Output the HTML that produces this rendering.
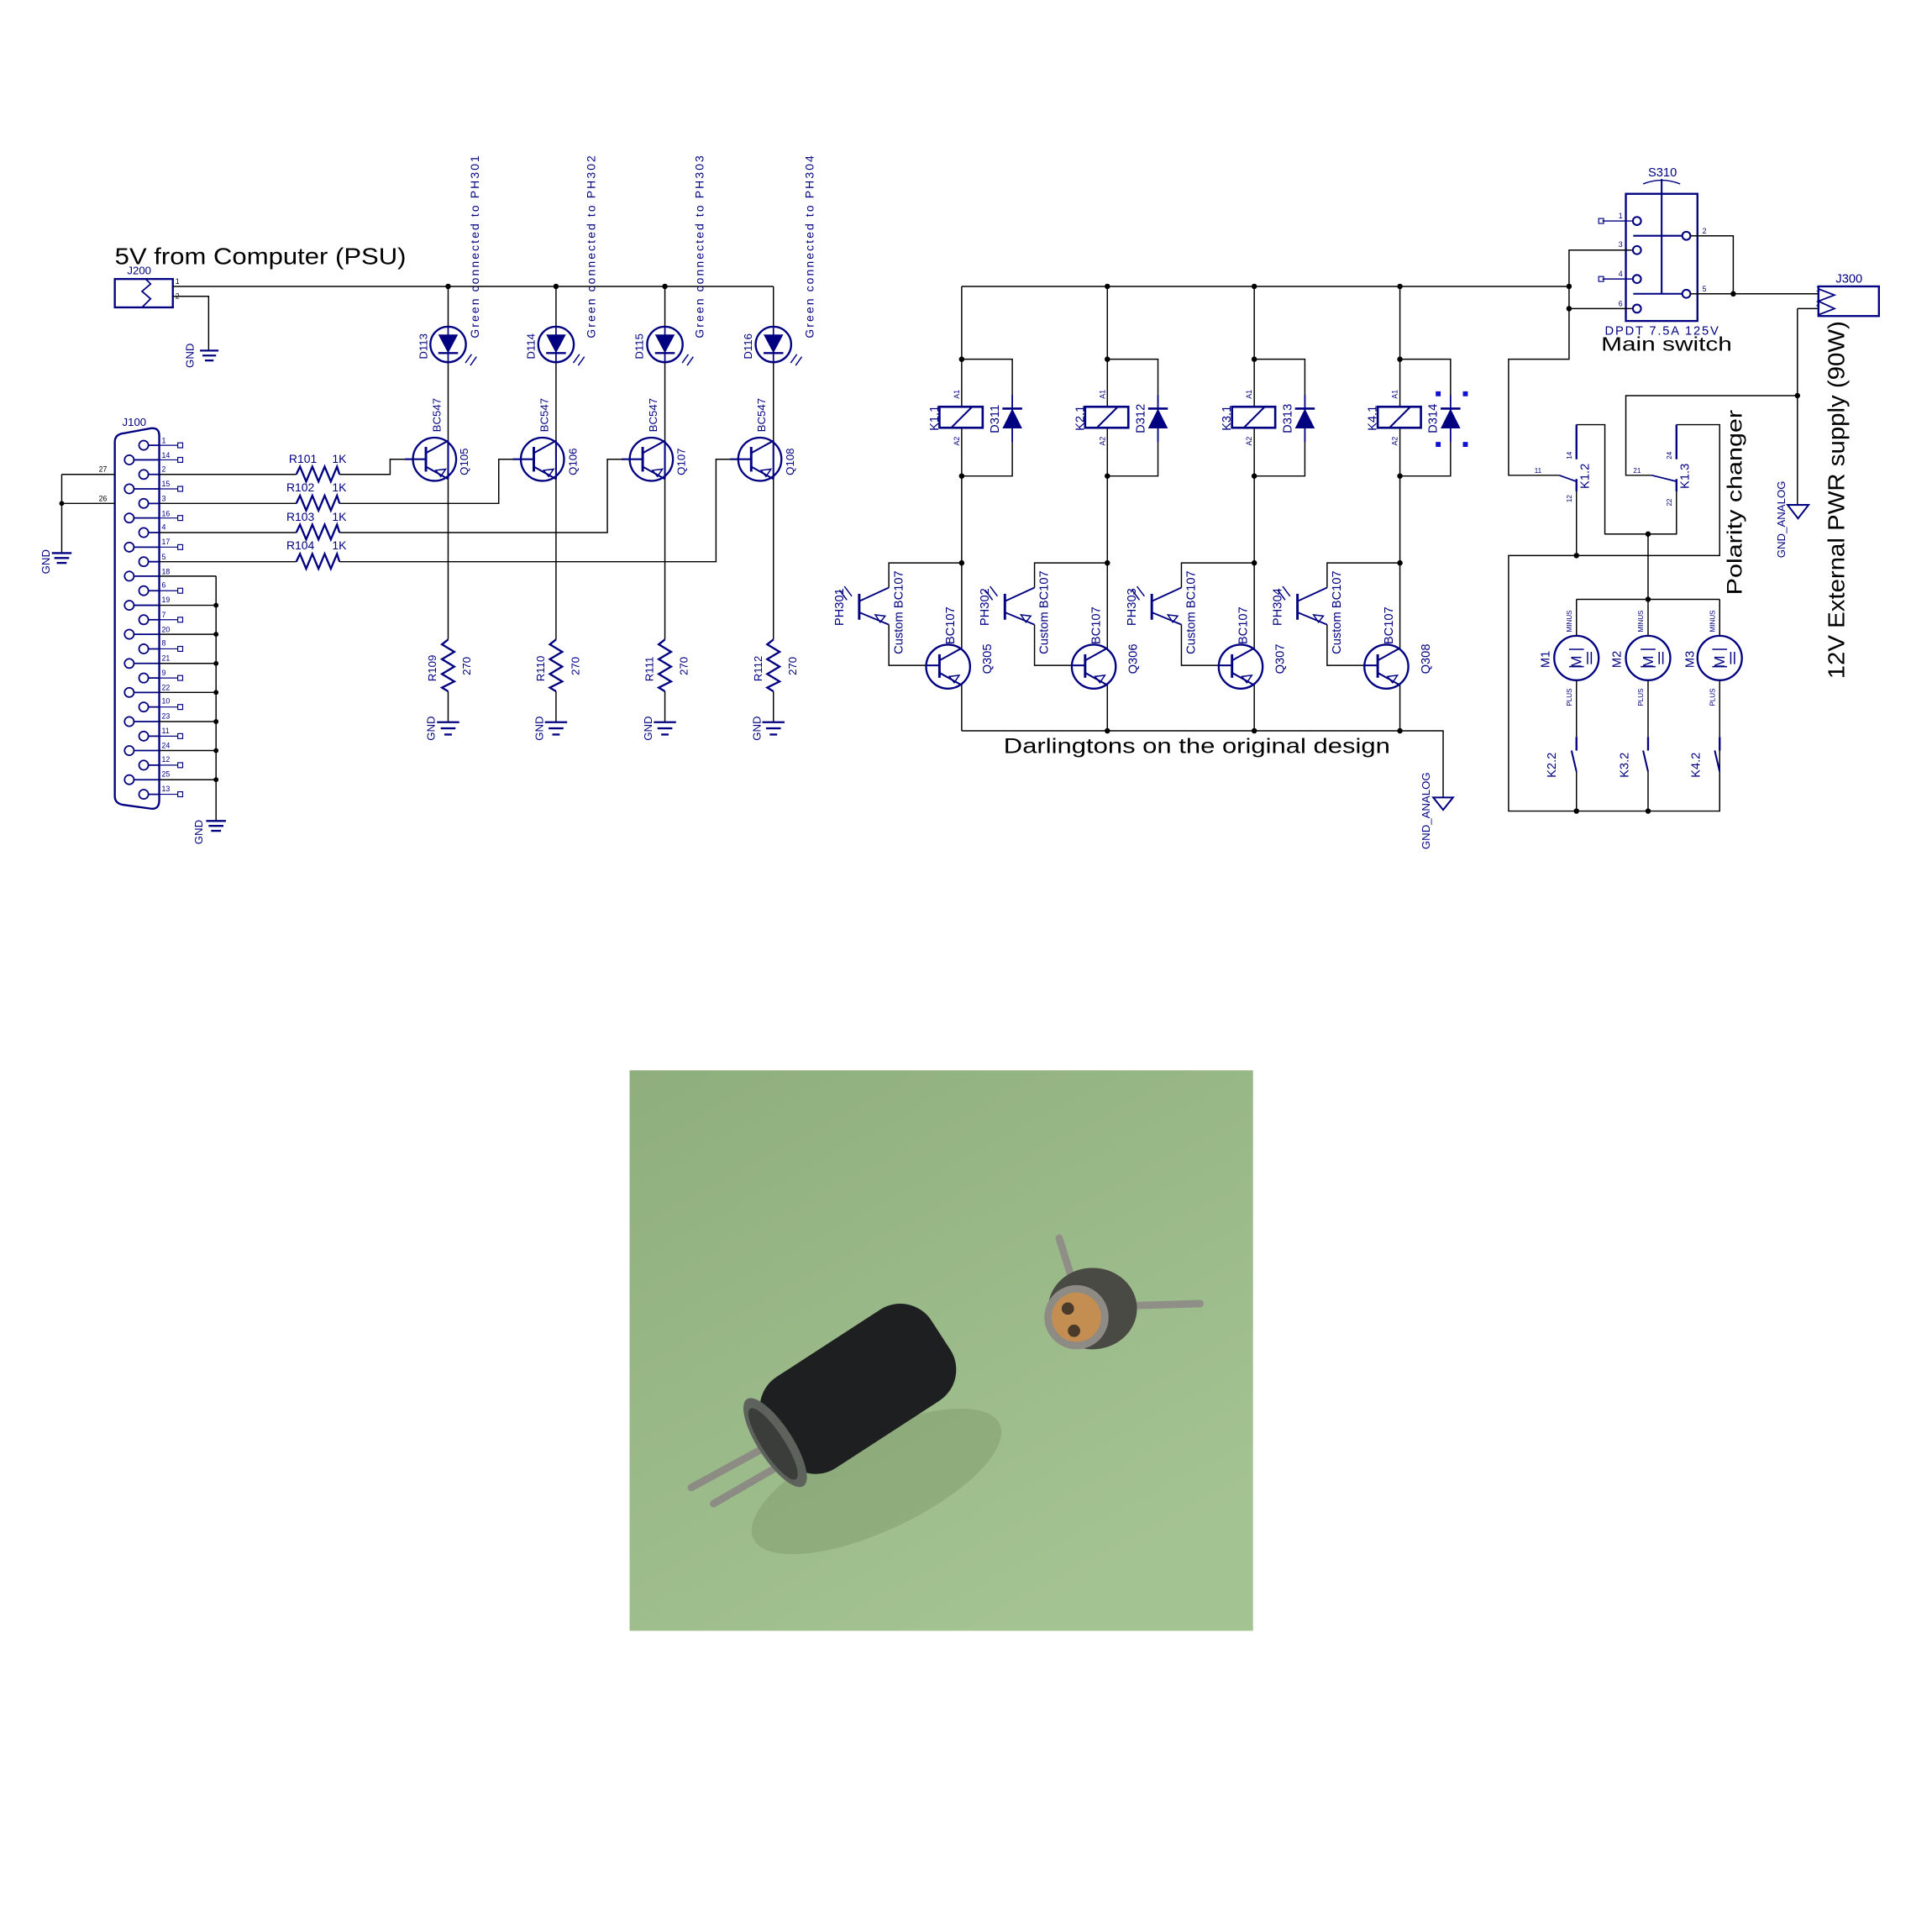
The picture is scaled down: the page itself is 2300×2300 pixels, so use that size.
<!DOCTYPE html>
<html><head><meta charset="utf-8"><style>
html,body{margin:0;padding:0;background:#fff}
svg{display:block}
text{font-family:"Liberation Sans",sans-serif}
.n{fill:#000080}
</style></head><body>
<svg width="2300" height="2300" viewBox="0 0 1565 1565" xmlns="http://www.w3.org/2000/svg">
<defs>
<linearGradient id="bg" x1="0" y1="0" x2="0.6" y2="1">
<stop offset="0" stop-color="#8fae7d"/><stop offset="1" stop-color="#a4c392"/></linearGradient>
<g id="ledcol">
<line x1="0" y1="232" x2="0" y2="518" stroke="#000" stroke-width="1"/>
<polyline points="0,518 -5,522 5,528 -5,534 5,540 -5,546 5,552 -5,557 0,560" fill="none" stroke="#000080" stroke-width="1.6"/>
<line x1="0" y1="560" x2="0" y2="585" stroke="#000" stroke-width="1"/>
<line x1="-9" y1="585" x2="9" y2="585" stroke="#000080" stroke-width="1.6"/>
<line x1="-6" y1="590" x2="6" y2="590" stroke="#000080" stroke-width="1.6"/>
<line x1="-3" y1="595" x2="3" y2="595" stroke="#000080" stroke-width="1.6"/>
<circle cx="0" cy="279" r="14.4" fill="#fff" stroke="#000080" stroke-width="1.6"/>
<polygon points="-8,271 8,271 0,286" fill="#000080"/>
<line x1="-8" y1="286" x2="8" y2="286" stroke="#000080" stroke-width="1.6"/>
<line x1="0" y1="264" x2="0" y2="294" stroke="#000080" stroke-width="1.2"/>
<path d="M14,294 L19,287 M18,296 L23,289" stroke="#000080" stroke-width="1"/>
<circle cx="-11" cy="372" r="17.5" fill="#fff" stroke="#000080" stroke-width="1.6"/>
<line x1="-18" y1="362" x2="-18" y2="382" stroke="#000080" stroke-width="2"/>
<path d="M-18,367 L0,357 M-18,378 L0,388 M0,357 L0,388" stroke="#000080" stroke-width="1.4" fill="none"/>
<polygon points="-6,386 -2,380 -10,381" fill="none" stroke="#000080" stroke-width="1"/>
<line x1="-35" y1="372" x2="-18" y2="372" stroke="#000080" stroke-width="1.4"/>
</g>
<g id="relcol">
<line x1="0" y1="232" x2="0" y2="592" stroke="#000" stroke-width="1"/>
<polyline points="0,291 41,291 41,385.6 0,385.6" fill="none" stroke="#000" stroke-width="1"/>
<circle cx="0" cy="291" r="2.2"/><circle cx="0" cy="385.6" r="2.2"/><circle cx="0" cy="456" r="2.2"/>
<rect x="-18" y="329.5" width="35" height="17" fill="#fff" stroke="#000080" stroke-width="1.8"/>
<line x1="-8" y1="346" x2="8" y2="330" stroke="#000080" stroke-width="1.4"/>
<line x1="41" y1="320" x2="41" y2="358" stroke="#000080" stroke-width="1.2"/>
<polygon points="33,347 49,347 41,331" fill="#000080"/>
<line x1="33" y1="331" x2="49" y2="331" stroke="#000080" stroke-width="1.8"/>
<line x1="-83" y1="481" x2="-83" y2="502" stroke="#000080" stroke-width="2"/>
<path d="M-83,487 L-59,476 M-83,496 L-59,506" stroke="#000080" stroke-width="1.3"/>
<polygon points="-66,504 -70,498 -62,499" fill="none" stroke="#000080" stroke-width="1"/>
<path d="M-99,478 L-93,486 M-95,475 L-89,483" stroke="#000080" stroke-width="1"/>
<polyline points="-59,476 -59,456 0,456" fill="none" stroke="#000" stroke-width="1"/>
<polyline points="-59,506 -59,539 -18,539" fill="none" stroke="#000" stroke-width="1"/>
<circle cx="-11" cy="540" r="17.8" fill="#fff" stroke="#000080" stroke-width="1.6"/>
<line x1="-18" y1="530" x2="-18" y2="549" stroke="#000080" stroke-width="2"/>
<path d="M-18,535 L0,525 M-18,545 L0,555" stroke="#000080" stroke-width="1.4"/>
<polygon points="-6,553 -2,547 -10,548" fill="none" stroke="#000080" stroke-width="1"/>
<line x1="-28" y1="539" x2="-18" y2="539" stroke="#000080" stroke-width="1.4"/>
</g>
<g id="motor">
<circle cx="0" cy="533" r="18" fill="#fff" stroke="#000080" stroke-width="1.6"/>
<line x1="0" y1="485.5" x2="0" y2="515" stroke="#000" stroke-width="1"/>
<line x1="0" y1="551" x2="0" y2="597" stroke="#000" stroke-width="1"/>
<line x1="0" y1="597" x2="0" y2="608" stroke="#000080" stroke-width="1.6"/>
<line x1="-4" y1="608" x2="0" y2="625" stroke="#000080" stroke-width="1.4"/>
<line x1="0" y1="625" x2="0" y2="657" stroke="#000" stroke-width="1"/>
<line x1="-6" y1="526" x2="6" y2="526" stroke="#000080" stroke-width="1"/>
<line x1="-6" y1="540" x2="6" y2="540" stroke="#000080" stroke-width="1"/>
<line x1="9" y1="528" x2="9" y2="538" stroke="#000080" stroke-width="1"/>
<line x1="12" y1="528" x2="12" y2="538" stroke="#000080" stroke-width="1"/>
</g>
</defs>

<!-- ===== LEFT ===== -->
<text x="93" y="214" font-size="19" textLength="236" lengthAdjust="spacingAndGlyphs">5V from Computer (PSU)</text>
<text x="103" y="222" font-size="9" class="n">J200</text>
<rect x="93" y="226" width="47" height="23" fill="none" stroke="#000080" stroke-width="1.6"/>
<polyline points="118,226 122,230 115,236 122,242 115,249" fill="none" stroke="#000080" stroke-width="1.2"/>
<text x="142" y="230" font-size="6">1</text><text x="142" y="242" font-size="6">2</text>
<line x1="140" y1="232" x2="626.5" y2="232" stroke="#000" stroke-width="1"/>
<polyline points="140,240 169,240 169,284" fill="none" stroke="#000" stroke-width="1"/>
<line x1="162" y1="284" x2="177" y2="284" stroke="#000080" stroke-width="1.6"/>
<line x1="164" y1="288" x2="175" y2="288" stroke="#000080" stroke-width="1.6"/>
<line x1="166" y1="292" x2="173" y2="292" stroke="#000080" stroke-width="1.6"/>
<text transform="translate(157,298) rotate(-90)" font-size="9" class="n">GND</text>
<circle cx="363" cy="232" r="2.2"/><circle cx="450.4" cy="232" r="2.2"/><circle cx="538.6" cy="232" r="2.2"/>

<use href="#ledcol" x="363"/><use href="#ledcol" x="450.4"/><use href="#ledcol" x="538.6"/><use href="#ledcol" x="626.5"/>

<g class="n" font-size="9">
<text transform="translate(346,291) rotate(-90)">D113</text>
<text transform="translate(433,291) rotate(-90)">D114</text>
<text transform="translate(521,291) rotate(-90)">D115</text>
<text transform="translate(609,291) rotate(-90)">D116</text>
<text transform="translate(357,350) rotate(-90)">BC547</text>
<text transform="translate(444,350) rotate(-90)">BC547</text>
<text transform="translate(532,350) rotate(-90)">BC547</text>
<text transform="translate(620,350) rotate(-90)">BC547</text>
<text transform="translate(379,385) rotate(-90)">Q105</text>
<text transform="translate(467,385) rotate(-90)">Q106</text>
<text transform="translate(555,385) rotate(-90)">Q107</text>
<text transform="translate(643,385) rotate(-90)">Q108</text>
<text transform="translate(353,552) rotate(-90)">R109</text>
<text transform="translate(441,552) rotate(-90)">R110</text>
<text transform="translate(529,552) rotate(-90)">R111</text>
<text transform="translate(617,552) rotate(-90)">R112</text>
<text transform="translate(381,547) rotate(-90)">270</text>
<text transform="translate(469,547) rotate(-90)">270</text>
<text transform="translate(557,547) rotate(-90)">270</text>
<text transform="translate(645,547) rotate(-90)">270</text>
<text transform="translate(352,600) rotate(-90)">GND</text>
<text transform="translate(440,600) rotate(-90)">GND</text>
<text transform="translate(528,600) rotate(-90)">GND</text>
<text transform="translate(616,600) rotate(-90)">GND</text>
</g>
<g class="n" font-size="9.5">
<text transform="translate(388,274) rotate(-90)" textLength="148" lengthAdjust="spacing">Green connected to PH301</text>
<text transform="translate(482,274) rotate(-90)" textLength="148" lengthAdjust="spacing">Green connected to PH302</text>
<text transform="translate(570,274) rotate(-90)" textLength="148" lengthAdjust="spacing">Green connected to PH303</text>
<text transform="translate(659,274) rotate(-90)" textLength="148" lengthAdjust="spacing">Green connected to PH304</text>
</g>

<!-- J100 -->
<text x="99" y="345" font-size="9" class="n">J100</text>
<path d="M93,358 Q93,352 100,351 L122,347 Q129,346 129,353 L129,648 Q129,656 122,655 L100,652 Q93,651 93,645 Z" fill="none" stroke="#000080" stroke-width="1.6"/>
<g stroke="#000080" stroke-width="1.2" fill="#fff">
<circle cx="116.4" cy="360.7" r="3.8"/><circle cx="104.7" cy="372.5" r="3.8"/><circle cx="116.4" cy="384.3" r="3.8"/><circle cx="104.7" cy="396" r="3.8"/><circle cx="116.4" cy="407.8" r="3.8"/><circle cx="104.7" cy="419.6" r="3.8"/><circle cx="116.4" cy="431.4" r="3.8"/><circle cx="104.7" cy="443.2" r="3.8"/><circle cx="116.4" cy="455" r="3.8"/><circle cx="104.7" cy="466.7" r="3.8"/><circle cx="116.4" cy="478.5" r="3.8"/><circle cx="104.7" cy="490.3" r="3.8"/><circle cx="116.4" cy="502" r="3.8"/><circle cx="104.7" cy="513.8" r="3.8"/><circle cx="116.4" cy="525.6" r="3.8"/><circle cx="104.7" cy="537.4" r="3.8"/><circle cx="116.4" cy="549.2" r="3.8"/><circle cx="104.7" cy="560.9" r="3.8"/><circle cx="116.4" cy="572.7" r="3.8"/><circle cx="104.7" cy="584.5" r="3.8"/><circle cx="116.4" cy="596.3" r="3.8"/><circle cx="104.7" cy="608" r="3.8"/><circle cx="116.4" cy="619.8" r="3.8"/><circle cx="104.7" cy="631.6" r="3.8"/><circle cx="116.4" cy="643.4" r="3.8"/>
</g>
<g stroke="#000080" stroke-width="1.2">
<path d="M120,360.7H129M108.5,372.5H129M120,384.3H129M108.5,396H129M120,407.8H129M108.5,419.6H129M120,431.4H129M108.5,443.2H129M120,455H129M108.5,466.7H129M120,478.5H129M108.5,490.3H129M120,502H129M108.5,513.8H129M120,525.6H129M108.5,537.4H129M120,549.2H129M108.5,560.9H129M120,572.7H129M108.5,584.5H129M120,596.3H129M108.5,608H129M120,619.8H129M108.5,631.6H129M120,643.4H129"/>
<path d="M129,360.7H144M129,372.5H144M129,396H144M129,419.6H144M129,443.2H144M129,478.5H144M129,502H144M129,525.6H144M129,549.2H144M129,572.7H144M129,596.3H144M129,619.8H144M129,643.4H144" stroke-width="0.8"/>
</g>
<g fill="#fff" stroke="#000080" stroke-width="0.8">
<rect x="144" y="358.7" width="4" height="4"/><rect x="144" y="370.5" width="4" height="4"/><rect x="144" y="394" width="4" height="4"/><rect x="144" y="417.6" width="4" height="4"/><rect x="144" y="441.2" width="4" height="4"/><rect x="144" y="476.5" width="4" height="4"/><rect x="144" y="500" width="4" height="4"/><rect x="144" y="523.6" width="4" height="4"/><rect x="144" y="547.2" width="4" height="4"/><rect x="144" y="570.7" width="4" height="4"/><rect x="144" y="594.3" width="4" height="4"/><rect x="144" y="617.8" width="4" height="4"/><rect x="144" y="641.4" width="4" height="4"/>
</g>
<g font-size="6" class="n">
<text x="131" y="359">1</text><text x="131" y="371">14</text><text x="131" y="382">2</text><text x="131" y="394">15</text><text x="131" y="406">3</text><text x="131" y="418">16</text><text x="131" y="429">4</text><text x="131" y="441">17</text><text x="131" y="453">5</text><text x="131" y="465">18</text><text x="131" y="476">6</text><text x="131" y="488">19</text><text x="131" y="500">7</text><text x="131" y="512">20</text><text x="131" y="523">8</text><text x="131" y="535">21</text><text x="131" y="547">9</text><text x="131" y="559">22</text><text x="131" y="570">10</text><text x="131" y="582">23</text><text x="131" y="594">11</text><text x="131" y="606">24</text><text x="131" y="617">12</text><text x="131" y="629">25</text><text x="131" y="641">13</text>
</g>
<g stroke="#000" stroke-width="1" fill="none">
<path d="M129,466.7H175M129,490.3H175M129,513.8H175M129,537.4H175M129,560.9H175M129,584.5H175M129,608H175M129,631.6H175"/>
<path d="M175,466.7V665"/>
<path d="M129,384.3H240M129,407.8H240M129,431.4H240M129,455H240"/>
<path d="M275,384.3H316V372H328"/><path d="M275,407.8H404V372H416"/><path d="M275,431.4H492V372H504"/><path d="M275,455H580V372H592"/>
<path d="M50,384.3H93M50,407.8H93M50,384.3V448"/>
</g>
<g fill="#000"><circle cx="175" cy="490.3" r="2"/><circle cx="175" cy="513.8" r="2"/><circle cx="175" cy="537.4" r="2"/><circle cx="175" cy="560.9" r="2"/><circle cx="175" cy="584.5" r="2"/><circle cx="175" cy="608" r="2"/><circle cx="175" cy="631.6" r="2"/><circle cx="50" cy="407.8" r="2"/></g>
<text x="80" y="382" font-size="6">27</text><text x="80" y="406" font-size="6">26</text>
<g stroke="#000080" stroke-width="1.6">
<line x1="167" y1="665" x2="183" y2="665"/><line x1="169" y1="669" x2="181" y2="669"/><line x1="171" y1="673" x2="179" y2="673"/>
<line x1="42" y1="448" x2="58" y2="448"/><line x1="44" y1="452" x2="56" y2="452"/><line x1="46" y1="456" x2="54" y2="456"/>
</g>
<text transform="translate(164,684) rotate(-90)" font-size="9" class="n">GND</text>
<text transform="translate(40,465) rotate(-90)" font-size="9" class="n">GND</text>
<g stroke="#000080" stroke-width="1.6" fill="none">
<polyline points="240,384.3 243,378 248,390 253,378 258,390 263,378 268,390 273,378 275,384.3"/>
<polyline points="240,407.8 243,401.5 248,413.5 253,401.5 258,413.5 263,401.5 268,413.5 273,401.5 275,407.8"/>
<polyline points="240,431.4 243,425 248,437 253,425 258,437 263,425 268,437 273,425 275,431.4"/>
<polyline points="240,455 243,448.7 248,460.7 253,448.7 258,460.7 263,448.7 268,460.7 273,448.7 275,455"/>
</g>
<g class="n" font-size="9.5">
<text x="234" y="375">R101</text><text x="269" y="375">1K</text>
<text x="232" y="398">R102</text><text x="269" y="398">1K</text>
<text x="232" y="422">R103</text><text x="269" y="422">1K</text>
<text x="232" y="445">R104</text><text x="269" y="445">1K</text>
</g>

<!-- ===== MIDDLE ===== -->
<line x1="779" y1="232" x2="1271" y2="232" stroke="#000" stroke-width="1"/>
<use href="#relcol" x="779"/><use href="#relcol" x="897"/><use href="#relcol" x="1016"/><use href="#relcol" x="1134"/>
<g fill="#000"><circle cx="897" cy="232" r="2.2"/><circle cx="1016" cy="232" r="2.2"/><circle cx="1134" cy="232" r="2.2"/>
<circle cx="897" cy="592" r="2.2"/><circle cx="1016" cy="592" r="2.2"/><circle cx="1134" cy="592" r="2.2"/></g>
<polyline points="779,592 1169,592 1169,646" fill="none" stroke="#000" stroke-width="1"/>
<polygon points="1161,646 1177,646 1169,656" fill="#fff" stroke="#000080" stroke-width="1.4"/>
<text transform="translate(1158,688) rotate(-90)" font-size="9" class="n">GND_ANALOG</text>
<text x="813" y="610" font-size="17" textLength="313" lengthAdjust="spacingAndGlyphs">Darlingtons on the original design</text>
<g fill="#1010d0"><rect x="1163" y="317" width="4" height="4"/><rect x="1185" y="317" width="4" height="4"/><rect x="1163" y="358" width="4" height="4"/><rect x="1185" y="358" width="4" height="4"/></g>
<g class="n" font-size="10">
<text transform="translate(760,349) rotate(-90)">K1.1</text><text transform="translate(878,349) rotate(-90)">K2.1</text><text transform="translate(997,349) rotate(-90)">K3.1</text><text transform="translate(1115,349) rotate(-90)">K4.1</text>
<text transform="translate(809,351) rotate(-90)">D311</text><text transform="translate(927,351) rotate(-90)">D312</text><text transform="translate(1046,351) rotate(-90)">D313</text><text transform="translate(1164,351) rotate(-90)">D314</text>
<text transform="translate(683,507) rotate(-90)">PH301</text><text transform="translate(801,507) rotate(-90)">PH302</text><text transform="translate(920,507) rotate(-90)">PH303</text><text transform="translate(1038,507) rotate(-90)">PH304</text>
<text transform="translate(731,530) rotate(-90)">Custom BC107</text><text transform="translate(849,530) rotate(-90)">Custom BC107</text><text transform="translate(968,530) rotate(-90)">Custom BC107</text><text transform="translate(1086,530) rotate(-90)">Custom BC107</text>
<text transform="translate(773,522) rotate(-90)">BC107</text><text transform="translate(891,522) rotate(-90)">BC107</text><text transform="translate(1010,522) rotate(-90)">BC107</text><text transform="translate(1128,522) rotate(-90)">BC107</text>
<text transform="translate(803,546) rotate(-90)">Q305</text><text transform="translate(921,546) rotate(-90)">Q306</text><text transform="translate(1040,546) rotate(-90)">Q307</text><text transform="translate(1158,546) rotate(-90)">Q308</text>
</g>
<g font-size="6" class="n">
<text transform="translate(777,323) rotate(-90)">A1</text><text transform="translate(895,323) rotate(-90)">A1</text><text transform="translate(1014,323) rotate(-90)">A1</text><text transform="translate(1132,323) rotate(-90)">A1</text>
<text transform="translate(777,361) rotate(-90)">A2</text><text transform="translate(895,361) rotate(-90)">A2</text><text transform="translate(1014,361) rotate(-90)">A2</text><text transform="translate(1132,361) rotate(-90)">A2</text>
</g>

<!-- ===== RIGHT ===== -->
<text x="1335" y="143" font-size="10" class="n">S310</text>
<path d="M1331,149 Q1346,143 1361,149" fill="none" stroke="#000080" stroke-width="1"/>
<rect x="1317" y="157" width="58" height="103" fill="none" stroke="#000080" stroke-width="1.6"/>
<g stroke="#000080" stroke-width="1.4" fill="none">
<line x1="1346" y1="145" x2="1346" y2="238"/>
<line x1="1323" y1="191" x2="1363" y2="191"/><line x1="1323" y1="238" x2="1363" y2="238"/>
<circle cx="1326" cy="179" r="3.3"/><circle cx="1326" cy="202.6" r="3.3"/><circle cx="1326" cy="226" r="3.3"/><circle cx="1326" cy="250" r="3.3"/>
<circle cx="1366" cy="191" r="3.3"/><circle cx="1366" cy="238" r="3.3"/>
<path d="M1298,179H1322M1298,226H1322" stroke-width="1"/>
<rect x="1295" y="177" width="4" height="4" stroke-width="0.8"/><rect x="1295" y="224" width="4" height="4" stroke-width="0.8"/>
</g>
<g font-size="6" class="n"><text x="1311" y="177">1</text><text x="1311" y="200">3</text><text x="1311" y="224">4</text><text x="1311" y="248">6</text><text x="1379" y="189">2</text><text x="1379" y="236">5</text>
<text x="1471" y="236">1</text><text x="1471" y="248">2</text></g>
<text x="1300" y="271" font-size="10" class="n" textLength="92">DPDT 7.5A 125V</text>
<text x="1297" y="284" font-size="16" textLength="106" lengthAdjust="spacingAndGlyphs">Main switch</text>
<g stroke="#000" stroke-width="1" fill="none">
<path d="M1322,202.6H1271V291H1222V385H1263"/>
<path d="M1271,250H1322"/>
<path d="M1369,191H1404V238M1369,238H1473"/>
<path d="M1456,250H1473M1456,250V409"/>
<path d="M1456,320.5H1317V385H1338"/>
<path d="M1277,344H1300V432.6H1358V390"/>
<path d="M1358,344H1393V450H1222V657H1393V597"/>
<path d="M1277,390V450"/>
<path d="M1335,432.6V485.5M1277,485.5H1393"/>
<path d="M1277,485.5V515M1393,485.5V515"/>
</g>
<g stroke="#000080" stroke-width="1.6">
<path d="M1277,344V372M1358,344V372M1277,388V398M1358,388V398"/>
<path d="M1263,385L1277,390M1338,385L1358,390" stroke-width="1.2"/>
</g>
<g fill="#000"><circle cx="1271" cy="232" r="2.2"/><circle cx="1271" cy="250" r="2.2"/><circle cx="1404" cy="238" r="2.2"/><circle cx="1456" cy="320.5" r="2.2"/><circle cx="1277" cy="450" r="2.2"/><circle cx="1335" cy="432.6" r="2.2"/><circle cx="1335" cy="485.5" r="2.2"/><circle cx="1277" cy="657" r="2.2"/><circle cx="1335" cy="657" r="2.2"/></g>
<polygon points="1448,409 1465,409 1456.5,420" fill="#fff" stroke="#000080" stroke-width="1.4"/>
<text transform="translate(1446,452) rotate(-90)" font-size="9" class="n">GND_ANALOG</text>
<rect x="1473" y="232" width="49" height="24" fill="none" stroke="#000080" stroke-width="1.6"/>
<polyline points="1473,234 1486,239 1473,244 1486,250 1473,255" fill="none" stroke="#000080" stroke-width="1.2"/>
<text x="1487" y="229" font-size="10" class="n">J300</text>
<use href="#motor" x="1277"/><use href="#motor" x="1335"/><use href="#motor" x="1393"/>
<g class="n" font-size="10">
<text transform="translate(1255,541) rotate(-90)">M1</text><text transform="translate(1313,541) rotate(-90)">M2</text><text transform="translate(1372,541) rotate(-90)">M3</text>
<text transform="translate(1260,630) rotate(-90)">K2.2</text><text transform="translate(1319,630) rotate(-90)">K3.2</text><text transform="translate(1377,630) rotate(-90)">K4.2</text>
<text transform="translate(1287,396) rotate(-90)">K1.2</text><text transform="translate(1368,396) rotate(-90)">K1.3</text>
<text transform="translate(1281,541) rotate(-90)" font-size="12">M</text><text transform="translate(1339,541) rotate(-90)" font-size="12">M</text><text transform="translate(1397,541) rotate(-90)" font-size="12">M</text>
</g>
<g class="n" font-size="5.5">
<text transform="translate(1273,512) rotate(-90)">MINUS</text><text transform="translate(1331,512) rotate(-90)">MINUS</text><text transform="translate(1389,512) rotate(-90)">MINUS</text>
<text transform="translate(1273,572) rotate(-90)">PLUS</text><text transform="translate(1331,572) rotate(-90)">PLUS</text><text transform="translate(1389,572) rotate(-90)">PLUS</text>
<text x="1243" y="383">11</text><text x="1323" y="383">21</text>
<text transform="translate(1273,372) rotate(-90)">14</text><text transform="translate(1354,372) rotate(-90)">24</text>
<text transform="translate(1273,407) rotate(-90)">12</text><text transform="translate(1354,410) rotate(-90)">22</text>
</g>
<text transform="translate(1411,482) rotate(-90)" font-size="17" textLength="150" lengthAdjust="spacingAndGlyphs">Polarity changer</text>
<text transform="translate(1494,550) rotate(-90)" font-size="19" textLength="290" lengthAdjust="spacingAndGlyphs">12V External PWR supply (90W)</text>

<!-- ===== PHOTO ===== -->
<rect x="510" y="867" width="505" height="454" fill="url(#bg)"/>
<ellipse cx="710" cy="1200" rx="110" ry="40" fill="#7f9b6c" opacity="0.5" transform="rotate(-25 710 1200)"/>
<g stroke="#8c8c84" stroke-width="6" stroke-linecap="round">
<line x1="615" y1="1175" x2="560" y2="1205"/><line x1="630" y1="1188" x2="578" y2="1218"/>
</g>
<g transform="translate(695,1125) rotate(-33)">
<rect x="-80" y="-44" width="160" height="88" rx="30" fill="#1d1f20"/>
<ellipse cx="-80" cy="0" rx="14" ry="42" fill="#5e625c"/>
<ellipse cx="-82" cy="0" rx="9" ry="34" fill="#3a3d3a"/>
</g>
<g stroke="#8f8f88" stroke-width="6" stroke-linecap="round">
<line x1="868" y1="1035" x2="858" y2="1003"/><line x1="905" y1="1058" x2="972" y2="1056"/>
</g>
<ellipse cx="885" cy="1060" rx="36" ry="33" fill="#4a4a45"/>
<circle cx="872" cy="1067" r="26" fill="#8e8a84"/>
<circle cx="872" cy="1067" r="20" fill="#c48e52"/>
<circle cx="865" cy="1060" r="5" fill="#4a3a2a"/><circle cx="870" cy="1078" r="5" fill="#4a3a2a"/>
</svg>
</body></html>
